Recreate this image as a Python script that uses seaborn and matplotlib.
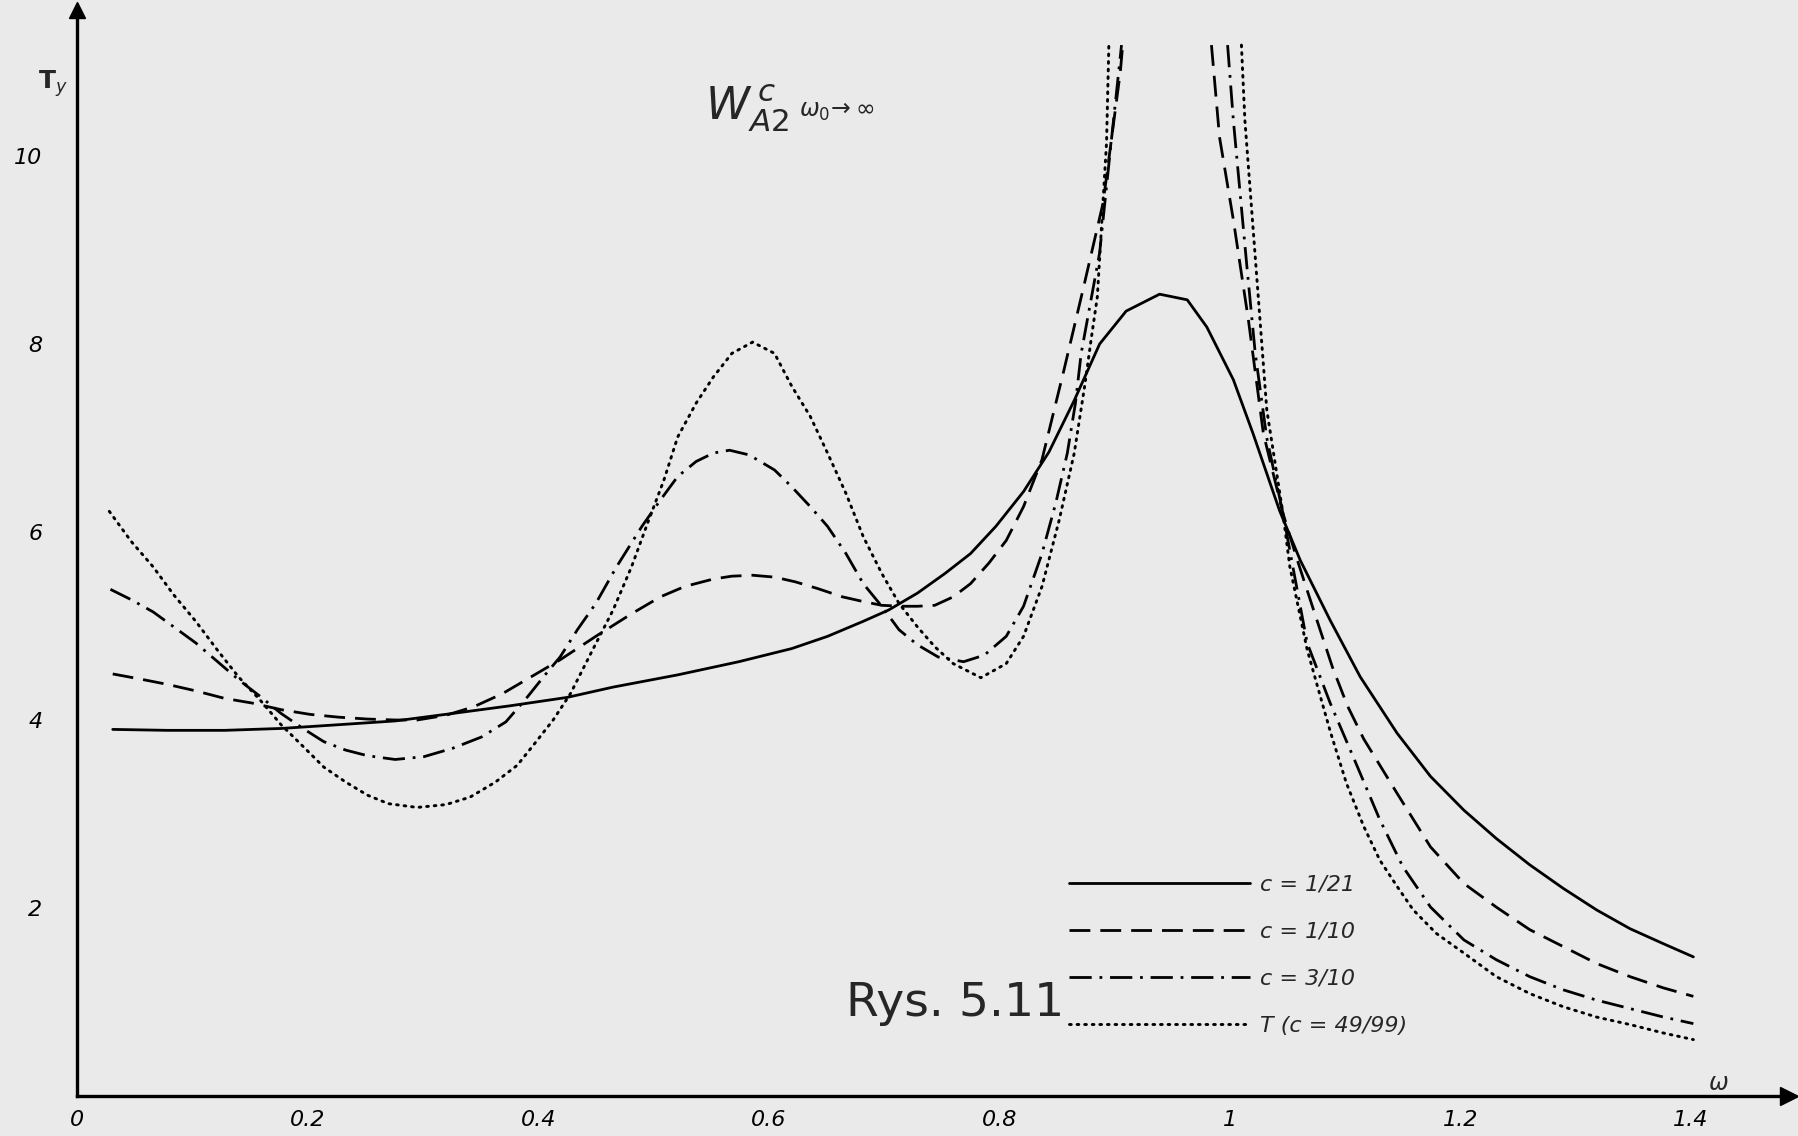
import numpy as np
import pandas as pd
import matplotlib
matplotlib.use("Agg")
import matplotlib.pyplot as plt
import seaborn as sns

# ---------------- data ----------------
labels = ["c = 1/21", "c = 1/10", "c = 3/10", "T (c = 49/99)"]

# c = 1/21 (solid, single branch)
s1_x = [0.031, 0.078, 0.128, 0.177, 0.227, 0.276, 0.326, 0.375, 0.425, 0.465, 0.521, 0.574,
        0.620, 0.651, 0.682, 0.704, 0.729, 0.753, 0.775, 0.797, 0.821, 0.843, 0.865, 0.887,
        0.910, 0.939, 0.963, 0.980, 1.003, 1.020, 1.043, 1.061, 1.087, 1.113, 1.145, 1.174,
        1.203, 1.231, 1.260, 1.289, 1.318, 1.347, 1.376, 1.402]
s1_y = [3.90, 3.89, 3.89, 3.91, 3.95, 3.99, 4.07, 4.15, 4.24, 4.35, 4.48, 4.62,
        4.76, 4.89, 5.05, 5.17, 5.35, 5.56, 5.77, 6.06, 6.43, 6.85, 7.40, 8.00,
        8.35, 8.53, 8.47, 8.18, 7.62, 7.05, 6.23, 5.70, 5.06, 4.46, 3.86, 3.40,
        3.04, 2.74, 2.46, 2.21, 1.98, 1.78, 1.62, 1.48]

# c = 1/10 (dashed): branch left of the pole, branch right of the pole
s2a_x = [0.031, 0.053, 0.078, 0.103, 0.128, 0.152, 0.177, 0.202, 0.227, 0.252, 0.276, 0.295,
         0.320, 0.344, 0.369, 0.394, 0.419, 0.450, 0.481, 0.506, 0.527, 0.552, 0.568, 0.586,
         0.605, 0.623, 0.642, 0.664, 0.682, 0.698, 0.716, 0.729, 0.744, 0.760, 0.775, 0.791,
         0.806, 0.821, 0.837, 0.849, 0.856, 0.873, 0.890, 0.905, 0.907]
s2a_y = [4.49, 4.44, 4.38, 4.31, 4.23, 4.18, 4.11, 4.06, 4.03, 4.01, 4.00, 4.00,
         4.05, 4.14, 4.28, 4.46, 4.64, 4.89, 5.13, 5.31, 5.42, 5.50, 5.53, 5.54,
         5.52, 5.47, 5.40, 5.31, 5.26, 5.22, 5.21, 5.21, 5.22, 5.31, 5.45, 5.67,
         5.91, 6.27, 6.77, 7.37, 7.72, 8.60, 9.50, 10.90, 11.18]
s2b_x = [0.984, 0.991, 1.003, 1.016, 1.029, 1.046, 1.058, 1.067, 1.075, 1.089, 1.102, 1.116,
         1.145, 1.174, 1.203, 1.231, 1.260, 1.289, 1.318, 1.347, 1.376, 1.402]
s2b_y = [11.18, 10.20, 9.32, 8.26, 7.05, 6.20, 5.72, 5.38, 5.08, 4.56, 4.15, 3.80,
         3.22, 2.65, 2.26, 2.01, 1.77, 1.59, 1.41, 1.27, 1.15, 1.06]

# c = 3/10 (dash-dot)
s3a_x = [0.029, 0.047, 0.066, 0.084, 0.103, 0.122, 0.140, 0.159, 0.177, 0.196, 0.214, 0.233,
         0.252, 0.276, 0.301, 0.326, 0.351, 0.372, 0.391, 0.406, 0.419, 0.434, 0.450, 0.468,
         0.490, 0.506, 0.521, 0.537, 0.552, 0.566, 0.583, 0.605, 0.620, 0.636, 0.651, 0.667,
         0.682, 0.698, 0.713, 0.729, 0.747, 0.769, 0.787, 0.806, 0.821, 0.837, 0.849, 0.859,
         0.866, 0.871, 0.887, 0.896, 0.906]
s3a_y = [5.39, 5.28, 5.15, 4.99, 4.82, 4.62, 4.43, 4.25, 4.07, 3.91, 3.77, 3.68,
         3.62, 3.58, 3.61, 3.70, 3.82, 3.98, 4.25, 4.48, 4.67, 4.96, 5.24, 5.63,
         6.06, 6.34, 6.59, 6.75, 6.84, 6.87, 6.82, 6.66, 6.48, 6.27, 6.06, 5.77,
         5.45, 5.21, 4.96, 4.80, 4.67, 4.62, 4.69, 4.89, 5.21, 5.77, 6.31, 6.84,
         7.37, 7.90, 8.97, 10.03, 11.18]
s3b_x = [0.998, 1.003, 1.015, 1.022, 1.032, 1.046, 1.054, 1.067, 1.087, 1.110, 1.130, 1.150,
         1.174, 1.203, 1.231, 1.260, 1.289, 1.318, 1.347, 1.376, 1.402]
s3b_y = [11.18, 10.38, 8.79, 7.90, 7.00, 6.20, 5.67, 4.82, 4.18, 3.52, 2.94, 2.44,
         2.01, 1.66, 1.45, 1.27, 1.13, 1.02, 0.93, 0.84, 0.77]

# T (c = 49/99) (dotted)
s4a_x = [0.028, 0.047, 0.066, 0.084, 0.103, 0.122, 0.140, 0.159, 0.177, 0.196, 0.214, 0.233,
         0.252, 0.270, 0.295, 0.320, 0.341, 0.363, 0.382, 0.397, 0.413, 0.428, 0.447, 0.465,
         0.481, 0.496, 0.509, 0.521, 0.537, 0.552, 0.568, 0.586, 0.605, 0.620, 0.636, 0.651,
         0.667, 0.682, 0.698, 0.713, 0.729, 0.744, 0.760, 0.784, 0.806, 0.821, 0.837, 0.852,
         0.865, 0.874, 0.880, 0.885, 0.893, 0.895]
s4a_y = [6.22, 5.90, 5.63, 5.33, 5.05, 4.74, 4.46, 4.21, 3.95, 3.72, 3.50, 3.34,
         3.20, 3.11, 3.07, 3.10, 3.18, 3.34, 3.52, 3.75, 4.00, 4.28, 4.74, 5.17,
         5.63, 6.13, 6.55, 7.01, 7.37, 7.65, 7.90, 8.02, 7.90, 7.55, 7.23, 6.84,
         6.41, 5.95, 5.56, 5.24, 4.99, 4.78, 4.60, 4.45, 4.60, 4.89, 5.42, 6.13,
         6.84, 7.55, 8.08, 8.50, 10.14, 11.18]
s4b_x = [1.010, 1.013, 1.024, 1.032, 1.046, 1.052, 1.067, 1.075, 1.087, 1.101, 1.116, 1.130,
         1.145, 1.159, 1.179, 1.203, 1.231, 1.260, 1.289, 1.318, 1.347, 1.376, 1.402]
s4b_y = [11.18, 10.38, 8.60, 7.30, 6.20, 5.63, 4.75, 4.40, 3.88, 3.33, 2.87, 2.51,
         2.23, 1.98, 1.73, 1.52, 1.27, 1.09, 0.95, 0.84, 0.76, 0.67, 0.60]

x_ticks = [0, 0.2, 0.4, 0.6, 0.8, 1.0, 1.2, 1.4]
x_ticklabels = ["0", "0.2", "0.4", "0.6", "0.8", "1", "1.2", "1.4"]
y_ticks = [2, 4, 6, 8, 10]
y_ticklabels = ["2", "4", "6", "8", "10"]

# ---------------- style ----------------
BG = "#eaeaea"
sns.set_theme(style="white", rc={"figure.facecolor": BG, "axes.facecolor": BG,
                                 "savefig.facecolor": BG})
plt.rcParams["font.family"] = ["DejaVu Sans"]
plt.rcParams["mathtext.fontset"] = "dejavusans"

W, H = 1798, 1136
fig = plt.figure(figsize=(W / 100, H / 100), dpi=100)
X0, Y0 = 77, 1096          # pixel position of data origin
PX_X, PX_Y = 1152.9, 94.0  # pixels per data unit
XMAX, YMAX = 1.485, 11.55
ax = fig.add_axes([X0 / W, 1 - Y0 / H, XMAX * PX_X / W, YMAX * PX_Y / H])

styles = [
    dict(linestyle="-", lw=2.0),
    dict(linestyle=(0, (7.5, 3.6)), lw=2.0),
    dict(linestyle=(0, (8.0, 2.8, 1.0, 2.8)), lw=2.0),
    dict(linestyle=(0, (0.6, 2.0)), lw=2.1, dash_capstyle="round"),
]
series = [
    [(s1_x, s1_y)],
    [(s2a_x, s2a_y), (s2b_x, s2b_y)],
    [(s3a_x, s3a_y), (s3b_x, s3b_y)],
    [(s4a_x, s4a_y), (s4b_x, s4b_y)],
]

handles = []
for lab, branches, st in zip(labels, series, styles):
    first = None
    for bx, by in branches:
        df = pd.DataFrame({"w": bx, "T": by})
        n0 = len(ax.lines)
        sns.lineplot(data=df, x="w", y="T", ax=ax, color="black", sort=False,
                     estimator=None, legend=False, **st)
        if first is None:
            first = ax.lines[n0]
    handles.append(first)

ax.set_xlim(0, XMAX)
ax.set_ylim(0, YMAX)
ax.set_xlabel("")
ax.set_ylabel("")
for side in ["top", "right"]:
    ax.spines[side].set_visible(False)
for side in ["left", "bottom"]:
    ax.spines[side].set_color("black")
    ax.spines[side].set_linewidth(2.4)

ax.set_xticks(x_ticks)
ax.set_xticklabels(x_ticklabels, fontsize=16, style="italic")
ax.set_yticks(y_ticks)
ax.set_yticklabels(y_ticklabels, fontsize=16, style="italic")
ax.tick_params(axis="x", direction="out", length=5, width=1.8, pad=5, colors="black")
ax.tick_params(axis="y", direction="out", length=5, width=1.8, pad=20, colors="black")

# axis arrows
ax.plot(1, 0, marker=">", color="black", markersize=13, transform=ax.transAxes, clip_on=False)
ax.plot(0, 1, marker="^", color="black", markersize=11, transform=ax.transAxes, clip_on=False)

# legend
leg = ax.legend(handles, labels, loc="upper left",
                bbox_to_anchor=(1069 / W, 1 - 875 / H), bbox_transform=fig.transFigure,
                frameon=False, fontsize=16, handlelength=8.15, handletextpad=0.45,
                labelspacing=1.21, borderpad=0, borderaxespad=0)
for t in leg.get_texts():
    t.set_style("italic")

# texts
fig.text(705 / W, 1 - 108 / H, r"$W_{A2}^{\,c}$", fontsize=32, va="center", ha="left")
fig.text(799 / W, 1 - 111 / H, r"$\omega_0\!\rightarrow\infty$", fontsize=17, va="center", ha="left")
fig.text(38 / W, 1 - 84 / H, r"$\mathbf{T}_{y}$", fontsize=18, va="center", ha="left")
fig.text(1718 / W, 1 - 1083 / H, r"$\omega$", fontsize=17, va="center", ha="center")
fig.text(1064 / W, 1 - 1003 / H, "Rys. 5.11", fontsize=34, va="center", ha="right")

fig.savefig("out.png", dpi=100, facecolor=BG)
